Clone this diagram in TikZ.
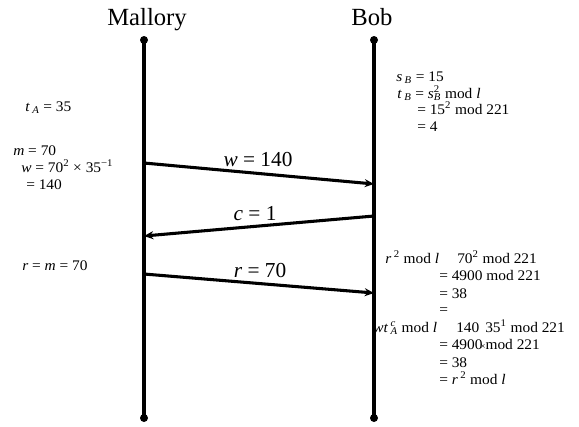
\documentclass[tikz,border=0pt]{standalone}
\usepackage{fontspec}
\setmainfont{Liberation Serif}
\usetikzlibrary{arrows.meta}
\newcommand{\vi}[1]{\textit{#1}}
\newcommand{\ssup}[1]{\textsuperscript{#1}}
\newcommand{\ssub}[1]{\textsubscript{\textit{#1}}}
\newcommand{\supsub}[2]{\rlap{\textsuperscript{#1}}\textsubscript{\textit{#2}}}
\begin{document}
\begin{tikzpicture}[x=0.75pt,y=-0.75pt]
\useasboundingbox (0,0) rectangle (579,426);
\tikzset{
 life/.style={line width=2.3pt},
 msg/.style={line width=2.3pt,-{Stealth[length=7pt,width=6pt]}},
 endpt/.style={circle,fill,inner sep=0pt,minimum size=6pt},
 head/.style={font=\fontsize{18.5}{20}\selectfont,inner sep=0pt,anchor=base},
 lab/.style={font=\fontsize{16}{18}\selectfont,inner sep=0pt,anchor=base},
 note/.style={font=\fontsize{11}{13}\selectfont\addfontfeature{FakeStretch=1.05},inner sep=0pt,anchor=base west},
}
% headers
\node[head] (mh) at (147,25) {Mallory};
\node[head] (bh) at (372,25) {Bob};
% lifelines
\node[endpt] (mt) at (144,40) {};
\node[endpt] (mb) at (144,418) {};
\node[endpt] (bt) at (374,40) {};
\node[endpt] (bb) at (374,418) {};
\draw[life] (mt.center) -- (mb.center);
\draw[life] (bt.center) -- (bb.center);
% messages
\coordinate (w1) at (144,163); \coordinate (w2) at (374,184);
\coordinate (c1) at (374,216); \coordinate (c2) at (144,236);
\coordinate (r1) at (144,274); \coordinate (r2) at (374,293);
\draw[msg] (w1) -- (w2);
\draw[msg] (c1) -- (c2);
\draw[msg] (r1) -- (r2);
\node[lab] (wl) at (258,166) {\vi{w} = 140};
\node[lab] (cl) at (255,220) {\vi{c} = 1};
\node[lab] (rl) at (260,277) {\vi{r} = 70};
% Mallory notes
\node[note] (ta) at (25,111) {\vi{t}\,\ssub{A} = 35};
\node[note] (m1) at (13,155) {\vi{m} = 70};
\node[note] (m2) at (21,172) {\vi{w} = 70\ssup{2} × 35\ssup{−1}};
\node[note] (m3) at (26,189) {= 140};
\node[note] (rm) at (22,270) {\vi{r} = \vi{m} = 70};
% Bob notes
\node[note] (b1) at (396,81) {\vi{s}\,\ssub{B} = 15};
\node[note] (b2) at (397,98) {\vi{t}\,\ssub{B} = \vi{s}\supsub{2}{B} mod \vi{l}};
\node[note] (b3) at (417,114) {= 15\ssup{2} mod 221};
\node[note] (b4) at (417,131) {= 4};
% verification
\node[note] (v1) at (385,263) {\vi{r}\,\ssup{2} mod \vi{l}};
\node[note] (v1b) at (457,263) {70\ssup{2} mod 221};
\node[note] (v2) at (439,280) {= 4900 mod 221};
\node[note] (v3) at (439,298) {= 38};
\node[note] (v4) at (439,314) {=};
\node[note] (v5) at (373,332) {\vi{wt}\,\supsub{\vi{c}}{A} mod \vi{l}};
\node[note] (v5b) at (456,332) {140};
\node[note] (v5c) at (485,332) {35\ssup{1} mod 221};
\node[note] (v6) at (439,349) {= 490\rlap{0}\hspace{0.35em}{\fontsize{7}{8}\selectfont ×}mod 221};
\node[note] (v7) at (439,367) {= 38};
\node[note] (v8) at (439,384) {= \vi{r}\,\ssup{2} mod \vi{l}};
\end{tikzpicture}
\end{document}
